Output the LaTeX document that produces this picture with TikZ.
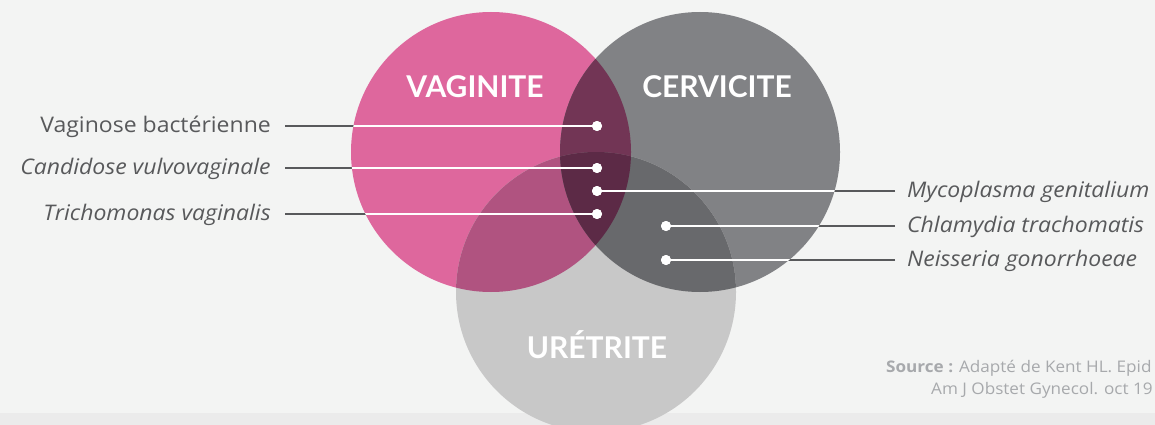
\documentclass[tikz,border=0pt]{standalone}
\usepackage{fontspec}
\setmainfont{Open Sans}
\newfontfamily\labfont[FakeStretch=1.07]{Open Sans}
\newfontfamily\headfont{Lato}
\definecolor{bgc}{HTML}{F3F4F3}
\definecolor{bandc}{HTML}{EBEBEB}
\definecolor{pinkc}{HTML}{DE679D}
\definecolor{grayc}{HTML}{818285}
\definecolor{lightc}{HTML}{C8C8C8}
\definecolor{vc}{HTML}{723555}
\definecolor{vu}{HTML}{B05380}
\definecolor{cu}{HTML}{68696C}
\definecolor{vcu}{HTML}{5C2A46}
\definecolor{txtc}{HTML}{58595B}
\definecolor{srcc}{HTML}{A7A9AC}
\tikzset{
  dotnode/.style={circle, fill=white, minimum size=10pt, inner sep=0pt},
  lefttxt/.style={anchor=base east, inner sep=0pt, text=txtc, font=\labfont\fontsize{21.5}{24}\selectfont},
  lefttxti/.style={lefttxt, font=\labfont\fontsize{21.5}{24}\selectfont\itshape},
  righttxt/.style={anchor=base west, inner sep=0pt, text=txtc, font=\labfont\fontsize{21.5}{24}\selectfont\itshape},
  headtxt/.style={anchor=base, inner sep=0pt, text=white, font=\headfont\fontsize{30}{34}\selectfont\bfseries},
  conn/.style={line width=2pt, txtc},
  connw/.style={line width=2pt, white},
  srctxt/.style={anchor=base west, inner sep=0pt, text=srcc, font=\labfont\fontsize{16}{18}\selectfont}
}
\begin{document}
\begin{tikzpicture}[x=1pt,y=-1pt]
\useasboundingbox (0,0) rectangle (1155,425);
\clip (0,0) rectangle (1155,425);
\fill[bgc] (0,0) rectangle (1155,425);
\fill[bandc] (0,413) rectangle (1155,425);
% circles
\coordinate (cv) at (491,152);
\coordinate (cc) at (700,152);
\coordinate (cu) at (596,292);
\fill[pinkc] (cv) circle[radius=140pt];
\fill[grayc] (cc) circle[radius=140pt];
\fill[lightc] (cu) circle[radius=140pt];
\begin{scope}
\clip (cv) circle[radius=140pt];
\fill[vc] (cc) circle[radius=140pt];
\fill[vu] (cu) circle[radius=140pt];
\end{scope}
\begin{scope}
\clip (cc) circle[radius=140pt];
\fill[cu] (cu) circle[radius=140pt];
\end{scope}
\begin{scope}
\clip (cv) circle[radius=140pt];
\clip (cc) circle[radius=140pt];
\fill[vcu] (cu) circle[radius=140pt];
\end{scope}
% headers
\node[headtxt] (hv) at (475,98) {VAGINITE};
\node[headtxt] (hc) at (717,98) {CERVICITE};
\node[headtxt] (hu) at (597,358) {URÉTRITE};
% dots
\node[dotnode] (d1) at (597,126) {};
\node[dotnode] (d2) at (597,168) {};
\node[dotnode] (d3) at (597,191) {};
\node[dotnode] (d4) at (597,214) {};
\node[dotnode] (d5) at (666,226) {};
\node[dotnode] (d6) at (666,260) {};
% labels
\node[lefttxt] (l1) at (271,132) {Vaginose bactérienne};
\node[lefttxti] (l2) at (271,174) {Candidose vulvovaginale};
\node[lefttxti] (l4) at (271,220) {Trichomonas vaginalis};
\node[righttxt] (r3) at (907,197) {Mycoplasma genitalium};
\node[righttxt] (r5) at (907,232) {Chlamydia trachomatis};
\node[righttxt] (r6) at (907,266) {Neisseria gonorrhoeae};
% connectors (dark)
\draw[conn] ([xshift=14pt]l1.east |- d1.center) -- (d1.center);
\draw[conn] ([xshift=14pt]l2.east |- d2.center) -- (d2.center);
\draw[conn] ([xshift=14pt]l4.east |- d4.center) -- (d4.center);
\draw[conn] ([xshift=-12pt]r3.west |- d3.center) -- (d3.center);
\draw[conn] ([xshift=-12pt]r5.west |- d5.center) -- (d5.center);
\draw[conn] ([xshift=-12pt]r6.west |- d6.center) -- (d6.center);
% connectors (white, inside circles)
\begin{scope}
\clip (cv) circle[radius=140pt] (cc) circle[radius=140pt] (cu) circle[radius=140pt];
\draw[connw] ([xshift=14pt]l1.east |- d1.center) -- (d1.center);
\draw[connw] ([xshift=14pt]l2.east |- d2.center) -- (d2.center);
\draw[connw] ([xshift=14pt]l4.east |- d4.center) -- (d4.center);
\draw[connw] ([xshift=-12pt]r3.west |- d3.center) -- (d3.center);
\draw[connw] ([xshift=-12pt]r5.west |- d5.center) -- (d5.center);
\draw[connw] ([xshift=-12pt]r6.west |- d6.center) -- (d6.center);
\end{scope}
\foreach \d in {d1,d2,d3,d4,d5,d6} \fill[white] (\d.center) circle[radius=5pt];
% source
\node[srctxt] (s1) at (886,372) {\textbf{Source :} Adapté de Kent HL. Epid};
\node[srctxt] (s2) at (931,394) {Am J Obstet Gynecol. oct 19};
\end{tikzpicture}
\end{document}
